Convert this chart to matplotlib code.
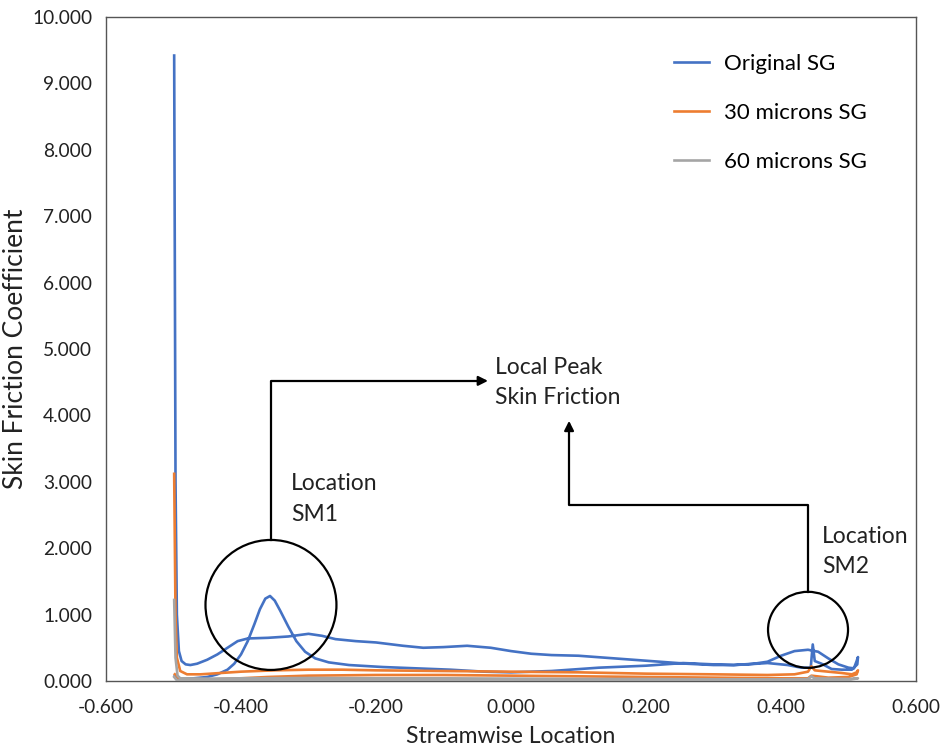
import matplotlib
matplotlib.use("Agg")
import matplotlib.pyplot as plt
from matplotlib.patches import Ellipse
from matplotlib.ticker import FormatStrFormatter

plt.rcParams['font.family'] = ['Lato', 'DejaVu Sans']

# Original SG: leading-edge spike, one surface to the trailing edge, other surface back
blue_x = [-0.499, -0.497, -0.495, -0.492, -0.488, -0.482, -0.475, -0.465, -0.450, -0.435,
          -0.420, -0.405, -0.390, -0.360, -0.330, -0.300, -0.280, -0.260, -0.230, -0.200,
          -0.160, -0.130, -0.100, -0.065, -0.030, 0.000, 0.030, 0.060, 0.100, 0.140,
          0.180, 0.220, 0.260, 0.300, 0.330, 0.360, 0.380, 0.400, 0.420, 0.440,
          0.455, 0.470, 0.485, 0.500, 0.508, 0.512, 0.514,
          0.513, 0.505, 0.490, 0.475, 0.460, 0.450, 0.447, 0.444, 0.430, 0.410,
          0.380, 0.350, 0.330, 0.300, 0.255, 0.200, 0.130, 0.060, 0.000, -0.040,
          -0.090, -0.140, -0.190, -0.240, -0.270, -0.290, -0.305, -0.318, -0.330, -0.342,
          -0.350, -0.357, -0.364, -0.372, -0.380, -0.390, -0.400, -0.410, -0.420, -0.435,
          -0.450, -0.470, -0.490, -0.498]
blue_y = [9.42, 3.00, 1.00, 0.45, 0.30, 0.25, 0.24, 0.26, 0.32, 0.40,
          0.50, 0.60, 0.64, 0.65, 0.67, 0.71, 0.68, 0.63, 0.60, 0.58,
          0.53, 0.50, 0.51, 0.53, 0.50, 0.45, 0.41, 0.39, 0.38, 0.35,
          0.32, 0.29, 0.26, 0.24, 0.24, 0.26, 0.29, 0.38, 0.45, 0.47,
          0.44, 0.34, 0.25, 0.20, 0.19, 0.30, 0.36,
          0.25, 0.17, 0.17, 0.18, 0.26, 0.30, 0.55, 0.20, 0.20, 0.24,
          0.27, 0.25, 0.24, 0.25, 0.27, 0.23, 0.20, 0.15, 0.13, 0.14,
          0.17, 0.19, 0.21, 0.24, 0.28, 0.34, 0.44, 0.60, 0.82, 1.06,
          1.21, 1.28, 1.24, 1.08, 0.86, 0.60, 0.40, 0.26, 0.17, 0.10,
          0.06, 0.04, 0.03, 0.08]

# 30 microns SG
orange_x = [-0.499, -0.497, -0.495, -0.490, -0.480, -0.460, -0.430, -0.400, -0.350, -0.300,
            -0.250, -0.200, -0.100, 0.000, 0.100, 0.200, 0.300, 0.380, 0.420, 0.440,
            0.445, 0.450, 0.470, 0.490, 0.505, 0.512, 0.514,
            0.512, 0.500, 0.470, 0.445, 0.440, 0.400, 0.300, 0.200, 0.100, 0.000,
            -0.100, -0.200, -0.300, -0.360, -0.400, -0.450, -0.490, -0.498]
orange_y = [3.12, 1.00, 0.35, 0.15, 0.10, 0.10, 0.12, 0.14, 0.16, 0.17,
            0.17, 0.16, 0.15, 0.14, 0.13, 0.11, 0.10, 0.09, 0.10, 0.14,
            0.22, 0.16, 0.14, 0.12, 0.10, 0.13, 0.16,
            0.10, 0.06, 0.05, 0.08, 0.04, 0.04, 0.05, 0.06, 0.07, 0.08,
            0.09, 0.09, 0.08, 0.06, 0.04, 0.02, 0.02, 0.10]

# 60 microns SG
gray_x = [-0.499, -0.497, -0.494, -0.490, -0.450, -0.400, -0.300, -0.200, -0.100, 0.000,
          0.100, 0.200, 0.300, 0.400, 0.440, 0.445, 0.450, 0.500, 0.514,
          0.500, 0.400, 0.300, 0.200, 0.000, -0.200, -0.350, -0.450, -0.495, -0.499]
gray_y = [1.22, 0.35, 0.08, 0.04, 0.035, 0.04, 0.045, 0.04, 0.04, 0.035,
          0.03, 0.03, 0.025, 0.025, 0.03, 0.07, 0.04, 0.03, 0.04,
          0.015, 0.01, 0.012, 0.015, 0.02, 0.02, 0.02, 0.01, 0.01, 0.06]

fig = plt.figure(figsize=(9.43, 7.47), dpi=100)
ax = fig.add_axes([0.1124, 0.0884, 0.8590, 0.8888])

ax.plot(blue_x, blue_y, color='#4472C4', lw=1.9, label='Original SG', zorder=3)
ax.plot(orange_x, orange_y, color='#ED7D31', lw=1.9, label='30 microns SG', zorder=4)
ax.plot(gray_x, gray_y, color='#A5A5A5', lw=1.9, label='60 microns SG', zorder=5)

ax.set_xlim(-0.6, 0.6)
ax.set_ylim(0, 10)
ax.set_xticks([-0.6, -0.4, -0.2, 0.0, 0.2, 0.4, 0.6])
ax.set_yticks(range(0, 11))
ax.xaxis.set_major_formatter(FormatStrFormatter('%.3f'))
ax.yaxis.set_major_formatter(FormatStrFormatter('%.3f'))
ax.tick_params(length=0, labelsize=13.8, colors='#222222')
ax.tick_params(axis='y', pad=10)
ax.tick_params(axis='x', pad=13)
for s in ax.spines.values():
    s.set_color('#555555')
    s.set_linewidth(1.0)

ax.set_xlabel('Streamwise Location', fontsize=16.5, color='#222222', labelpad=7)
ax.set_ylabel('Skin Friction Coefficient', fontsize=19, color='#222222', labelpad=3)

leg = ax.legend(loc='upper left', bbox_to_anchor=(0.701, 0.945), frameon=False,
                borderpad=0, borderaxespad=0,
                fontsize=16, handlelength=1.6, labelspacing=1.31, handletextpad=0.68)

# highlight circles
ax.add_patch(Ellipse((-0.3556, 1.145), 0.194, 1.958, fill=False, ec='black', lw=1.6, zorder=6))
ax.add_patch(Ellipse((0.440, 0.770), 0.1185, 1.145, fill=False, ec='black', lw=1.6, zorder=6))

# connector lines with arrows
ax.plot([-0.3556, -0.3556, -0.045], [2.124, 4.52, 4.52], color='black', lw=1.6, zorder=6)
ax.annotate('', xy=(-0.030, 4.52), xytext=(-0.05, 4.52),
            arrowprops=dict(arrowstyle='-|>', color='black', lw=1.6, mutation_scale=14))
ax.plot([0.440, 0.440, 0.086, 0.086], [1.34, 2.65, 2.65, 3.80], color='black', lw=1.6, zorder=6)
ax.annotate('', xy=(0.086, 3.96), xytext=(0.086, 3.75),
            arrowprops=dict(arrowstyle='-|>', color='black', lw=1.6, mutation_scale=14))

ax.text(-0.0237, 4.50, 'Local Peak\nSkin Friction', fontsize=16.5, va='center', ha='left',
        color='#222222', linespacing=1.55)
ax.text(-0.326, 2.74, 'Location\nSM1', fontsize=16.5, va='center', ha='left',
        color='#222222', linespacing=1.55)
ax.text(0.461, 1.95, 'Location\nSM2', fontsize=16.5, va='center', ha='left',
        color='#222222', linespacing=1.55)

fig.savefig('out.png', dpi=100)
